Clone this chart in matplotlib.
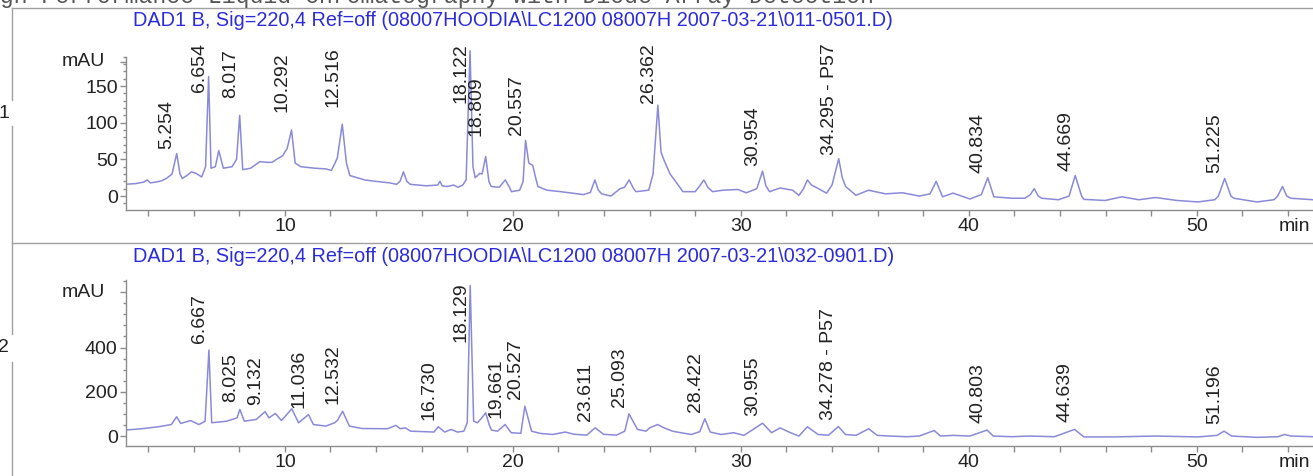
import numpy as np
import matplotlib
matplotlib.use('Agg')
import matplotlib.pyplot as plt
from matplotlib.lines import Line2D
from matplotlib.ticker import FixedLocator

plt.rcParams['font.family'] = ['Liberation Sans', 'DejaVu Sans']

W, H = 1313, 476

header = 'High Performance Liquid Chromatography with Diode Array Detection'
title1 = 'DAD1 B, Sig=220,4 Ref=off (08007HOODIA\\LC1200 08007H 2007-03-21\\011-0501.D)'
title2 = 'DAD1 B, Sig=220,4 Ref=off (08007HOODIA\\LC1200 08007H 2007-03-21\\032-0901.D)'

# run 1 (011-0501.D): time (min), signal (mAU)
trace1 = np.array([
    (2.95, 16), (3.45, 17), (3.8, 19), (3.96, 22), (4.1, 18), (4.42, 19.5), (4.6, 21), (4.8, 24),
    (5.05, 30), (5.254, 58), (5.40, 30), (5.5, 24), (5.7, 28), (5.9, 33), (6.1, 31), (6.35, 26),
    (6.52, 40), (6.654, 163), (6.76, 38), (6.95, 40), (7.1, 62), (7.3, 38), (7.68, 40), (7.88, 50),
    (8.017, 110), (8.15, 36), (8.5, 38), (8.9, 47), (9.2, 46), (9.44, 46), (9.63, 50), (9.9, 55),
    (10.1, 65), (10.292, 90), (10.45, 45), (10.7, 40), (11.3, 38), (11.8, 37), (12.04, 35), (12.2, 45),
    (12.3, 52), (12.516, 98), (12.7, 45), (12.85, 28), (13.5, 22), (14.0, 20), (14.6, 18), (14.9, 16),
    (15.05, 20), (15.2, 33), (15.35, 20), (15.5, 16), (16.2, 14), (16.7, 15), (16.8, 20), (16.9, 14),
    (17.1, 13), (17.4, 15), (17.6, 12), (17.8, 15), (17.95, 22), (18.122, 198), (18.25, 40), (18.35, 25),
    (18.55, 31), (18.65, 30), (18.809, 54), (18.95, 20), (19.05, 13), (19.4, 12), (19.67, 22), (19.85, 12),
    (19.94, 6), (20.3, 8), (20.45, 20), (20.557, 76), (20.7, 45), (20.87, 42), (21.0, 25), (21.1, 13),
    (21.5, 8), (22.1, 6), (22.6, 4), (23.1, 2), (23.4, 5), (23.6, 22), (23.75, 8), (23.9, 3),
    (24.3, 0), (24.7, 10), (24.9, 12), (25.1, 22), (25.3, 10), (25.4, 6), (25.96, 8), (26.15, 30),
    (26.362, 124), (26.5, 60), (26.63, 49), (26.9, 30), (27.09, 22), (27.46, 6), (28.0, 6), (28.2, 14),
    (28.38, 22), (28.55, 12), (28.76, 6), (29.22, 8), (29.87, 9), (30.24, 4.5), (30.7, 10), (30.954, 34),
    (31.1, 14), (31.26, 6), (31.72, 11), (32.27, 8), (32.55, 1), (32.75, 10), (32.92, 22), (33.1, 15),
    (33.29, 12), (33.76, 4), (34.0, 15), (34.295, 51), (34.45, 25), (34.6, 13), (35.05, 1), (35.6, 8),
    (36.35, 3), (37.09, 4.5), (37.83, 0), (38.3, 3), (38.57, 20), (38.85, -1), (39.31, 4), (40.05, -4),
    (40.55, 2), (40.834, 25), (41.1, -1), (41.9, -3), (42.46, -3), (42.7, 2), (42.87, 10), (43.05, 0),
    (43.2, -3), (43.94, -5), (44.4, 0), (44.669, 28), (44.95, 0), (45.05, -4.5), (45.98, -6), (46.72, -1),
    (47.46, -5), (48.2, -2), (49.13, -6), (50.05, -8), (50.79, -5), (50.95, 0), (51.225, 24), (51.5, 0),
    (51.63, -3), (52.64, -8), (53.39, -5), (53.55, 0), (53.76, 13), (53.95, 0), (54.13, -3), (55.1, -5),
])

# run 2 (032-0901.D)
trace2 = np.array([
    (2.98, 27), (3.72, 33), (4.46, 42), (5.02, 52), (5.25, 87), (5.43, 57), (5.86, 70), (6.23, 52),
    (6.5, 67), (6.667, 388), (6.79, 60), (7.44, 67), (7.9, 82), (8.025, 120), (8.22, 67), (8.74, 75),
    (9.132, 110), (9.3, 82), (9.58, 102), (9.85, 70), (10.3, 123), (10.6, 60), (11.036, 97), (11.25, 52),
    (11.8, 45), (12.18, 60), (12.3, 70), (12.532, 112), (12.83, 45), (13.38, 34), (14.5, 33), (14.87, 48),
    (15.06, 33), (15.28, 37), (15.52, 22), (16.54, 18), (16.73, 42), (17.01, 18), (17.29, 30), (17.57, 18),
    (17.85, 22), (18.0, 60), (18.129, 680), (18.28, 67), (18.45, 60), (18.62, 80), (18.81, 105), (18.96, 52),
    (19.06, 27), (19.33, 22), (19.661, 52), (19.93, 15), (20.35, 12), (20.527, 135), (20.82, 22), (21.19, 12),
    (21.75, 7), (22.3, 18), (22.68, 8), (23.24, 4), (23.611, 37), (23.98, 8), (24.54, 4), (24.91, 22),
    (25.093, 100), (25.47, 30), (25.84, 22), (26.0, 37), (26.35, 52), (26.63, 37), (27.0, 22), (27.37, 15),
    (27.83, 7), (28.2, 20), (28.422, 78), (28.66, 18), (29.13, 7), (29.68, 15), (30.14, 3), (30.955, 58),
    (31.35, 15), (31.72, 37), (32.18, 15), (32.55, 0), (32.92, 42), (33.39, 7), (33.85, 4), (34.278, 43),
    (34.59, 7), (35.05, 3), (35.61, 33), (35.98, 3), (36.53, 0), (37.27, -3), (37.83, 0), (38.48, 25),
    (38.76, 0), (39.31, 3), (40.05, 0), (40.803, 27), (41.07, 0), (41.9, -3), (42.64, 0), (43.76, -3),
    (44.639, 30), (45.05, -4), (46.35, -4), (48.2, 0), (50.05, -4), (50.89, 3), (51.196, 22), (51.53, 0),
    (52.64, -6), (53.57, -3), (53.85, 7), (54.13, 0), (55.1, -3),
])

labels1 = ['5.254', '6.654', '8.017', '10.292', '12.516', '18.122', '18.809', '20.557', '26.362',
           '30.954', '34.295 - P57', '40.834', '44.669', '51.225']
labels2 = ['6.667', '8.025', '9.132', '11.036', '12.532', '16.730', '18.129', '19.661', '20.527',
           '23.611', '25.093', '28.422', '30.955', '34.278 - P57', '40.803', '44.639', '51.196']

yticks1 = [0, 50, 100, 150]
yticks2 = [0, 200, 400]

line_col = '#8a8ad8'
axis_col = '#8c8c8c'
text_col = '#222222'
blue = '#2b2bdc'


def box(left, top, right, bottom):
    return [left / W, 1 - bottom / H, (right - left) / W, (bottom - top) / H]


fig = plt.figure(figsize=(W / 100, H / 100), dpi=100)
ax1 = fig.add_axes(box(126, 49.4, 1313, 210))
ax2 = fig.add_axes(box(126, 280, 1313, 446))


def style(ax, ylim, yticks, mau, minor, ytop):
    ax.set_xlim(3.03, 55.1)
    ax.set_ylim(*ylim)
    for s in ['top', 'right']:
        ax.spines[s].set_visible(False)
    for s in ['left', 'bottom']:
        ax.spines[s].set_color(axis_col)
        ax.spines[s].set_linewidth(1.0)
    ax.spines['left'].set_bounds(ylim[0], ytop)
    xt = np.arange(4, 56, 2)
    ax.set_xticks(xt)
    ax.set_xticklabels([str(x) if x % 10 == 0 else '' for x in xt])
    ax.set_yticks(yticks + [mau])
    ax.set_yticklabels([str(y) for y in yticks] + [''])
    ax.yaxis.set_minor_locator(FixedLocator(minor))
    ax.tick_params(axis='both', which='both', direction='out', color=axis_col,
                   labelsize=14, labelcolor=text_col, width=1.0)
    ax.tick_params(axis='x', length=4.5, pad=1.5)
    ax.tick_params(axis='y', which='major', length=4.5, pad=1.5)
    ax.tick_params(axis='y', which='minor', length=2.5)
    ax.annotate('mAU', xy=(0, mau), xycoords=ax.get_yaxis_transform(),
                xytext=(-21, 0), textcoords='offset pixels', ha='right', va='center',
                fontsize=14, color=text_col)
    ax.annotate('min', xy=(53.6, 0), xycoords=ax.get_xaxis_transform(),
                xytext=(0, -6), textcoords='offset points', ha='left', va='top',
                fontsize=14, color=text_col)


style(ax1, (-19, 200), yticks1, 183, np.arange(-10, 191, 10), 190)
style(ax2, (-45, 705), yticks2, 650, np.arange(0, 701, 50), 703)

ax1.plot(trace1[:, 0], trace1[:, 1], color=line_col, lw=1.1)
ax2.plot(trace2[:, 0], trace2[:, 1], color=line_col, lw=1.1)


def mark_peaks(ax, trace, names, rise, extra):
    out = []
    for s in names:
        rt = float(s.split()[0])
        dy = rise + extra.get(s, 0)
        a = ax.annotate(s, xy=(rt, np.interp(rt, trace[:, 0], trace[:, 1])),
                        xytext=(-1, dy), textcoords='offset pixels', rotation=90,
                        ha='right', va='bottom', fontsize=14, color=text_col)
        out.append((a, dy))
    return out


anns1 = mark_peaks(ax1, trace1, labels1, 5, {'8.017': 12, '10.292': 13, '12.516': 12, '18.809': 15})
anns2 = mark_peaks(ax2, trace2, labels2, 7, {})

# titles, frame and header
fig.text(133 / W, 1 - 20 / H, title1, color=blue, fontsize=14.3, ha='left', va='center')
fig.text(133 / W, 1 - 257 / H, title2, color=blue, fontsize=14.3, ha='left', va='center')
fig.text(-28 / W, 1 - 3 / H, header, family='Liberation Mono', fontsize=16.7,
         color='#555555', ha='left', va='baseline')

frame = dict(transform=fig.transFigure, color='#a0a0a0', lw=1.0)
fig.add_artist(Line2D([12 / W, 1], [1 - 8 / H, 1 - 8 / H], **frame))
fig.add_artist(Line2D([12 / W, 1], [1 - 243 / H, 1 - 243 / H], **frame))
for y0, y1 in [(8, 100), (126, 334), (362, 476)]:
    fig.add_artist(Line2D([12 / W, 12 / W], [1 - y0 / H, 1 - y1 / H], **frame))
fig.text(9 / W, 1 - 113 / H, '1', fontsize=14, color=text_col, ha='right', va='center')
fig.text(9 / W, 1 - 348 / H, '2', fontsize=14, color=text_col, ha='right', va='center')

# keep peak labels from running above the top of each panel
fig.canvas.draw()
for anns, cap in [(anns1, 43), (anns2, 282)]:
    for a, dy in anns:
        over = a.get_window_extent().y1 - (H - cap)
        if over > 0:
            a.xyann = (-1, dy - over)

fig.savefig('out.png', dpi=100)
